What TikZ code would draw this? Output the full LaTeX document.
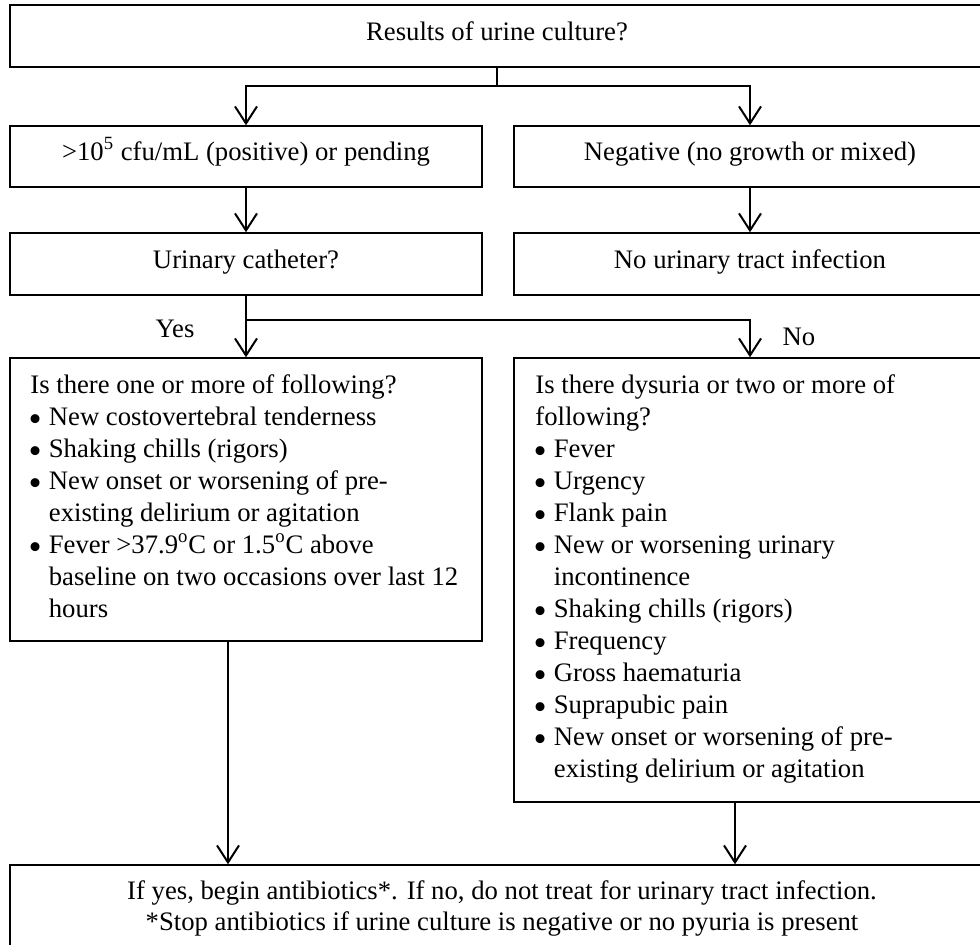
\documentclass[tikz,border=0pt]{standalone}
\usepackage{fontspec}
\setmainfont{Liberation Serif}
\usetikzlibrary{arrows.meta,fit}
\newcommand\bulitem{\makebox[9.25pt][l]{\makebox[0pt][l]{\hspace*{-0.9pt}\smash{\raisebox{-0.5ex}{\scalebox{1.4}{\textbullet}}}}}}
\newcommand\contitem{\hspace*{9.25pt}}
\begin{document}
\begin{tikzpicture}[x=0.5pt,y=-0.5pt,
  box/.style={draw=black, line width=0.75pt, inner sep=0pt},
  txt/.style={inner sep=0pt, font=\fontsize{13.35}{16}\selectfont},
  arr/.style={line width=1pt, -{Straight Barb[length=8.5pt,width=11pt]}},
  ln/.style={line width=1pt}]
\useasboundingbox (0,0) rectangle (980,944);

% boxes
\node[box, fit={(10,5) (984,67)}] (T) {};
\node[box, fit={(10,126) (482,187)}] (A) {};
\node[box, fit={(514,126) (986,187)}] (B) {};
\node[box, fit={(10,233) (482,295)}] (C) {};
\node[box, fit={(514,233) (986,295)}] (D) {};
\node[box, fit={(10,358) (482,641)}] (E) {};
\node[box, fit={(514,358) (986,802)}] (F) {};
\node[box, fit={(10,865) (996,952)}] (G) {};

% texts
\node[txt, anchor=base] (Tt) at (497,40) {Results of urine culture?};
\node[txt, anchor=base] (At) at (246,160) {>10\textsuperscript{5} cfu/mL (positive) or pending};
\node[txt, anchor=base] (Bt) at (750,160) {Negative (no growth or mixed)};
\node[txt, anchor=base] (Ct) at (246,268) {Urinary catheter?};
\node[txt, anchor=base] (Dt) at (750,268) {No urinary tract infection};

\node[txt, anchor=base west] (Et) at (30,393) {\begin{tabular}[t]{@{}l@{}}
Is there one or more of following?\\
\bulitem New costovertebral tenderness\\
\bulitem Shaking chills (rigors)\\
\bulitem New onset or worsening of pre-\\
\contitem existing delirium or agitation\\
\bulitem Fever >37.9\textsuperscript{o}C or 1.5\textsuperscript{o}C above\\
\contitem baseline on two occasions over last 12\\
\contitem hours
\end{tabular}};

\node[txt, anchor=base west] (Ft) at (535,393) {\begin{tabular}[t]{@{}l@{}}
Is there dysuria or two or more of\\
following?\\
\bulitem Fever\\
\bulitem Urgency\\
\bulitem Flank pain\\
\bulitem New or worsening urinary\\
\contitem incontinence\\
\bulitem Shaking chills (rigors)\\
\bulitem Frequency\\
\bulitem Gross haematuria\\
\bulitem Suprapubic pain\\
\bulitem New onset or worsening of pre-\\
\contitem existing delirium or agitation
\end{tabular}};

\node[txt, anchor=base, font=\fontsize{13.35}{15.5}\selectfont] (Gt) at (502,899) {\begin{tabular}[t]{@{}c@{}}
If yes, begin antibiotics*. If no, do not treat for urinary tract infection.\\
{*}Stop antibiotics if urine culture is negative or no pyuria is present
\end{tabular}};

\node[txt, anchor=base] (yes) at (175,337) {Yes};
\node[txt, anchor=base] (no) at (799,345) {No};

% connectors
\path (T.south) ++(0,18) coordinate (j1);
\draw[ln] (T.south) -- (j1);
\draw[arr] (j1) -| (A.north);
\draw[arr] (j1) -| (B.north);
\draw[arr] (A) -- (C);
\draw[arr] (B) -- (D);
\draw[arr] (C) -- (E);
\path (C.south) ++(0,24) coordinate (j2);
\draw[arr] (j2) -| (F.north);
\path ([xshift=-9pt]E.south) coordinate (e1);
\path ([xshift=-7.5pt]F.south) coordinate (f1);
\draw[arr] (e1) -- (e1 |- G.north);
\draw[arr] (f1) -- (f1 |- G.north);
\end{tikzpicture}
\end{document}
